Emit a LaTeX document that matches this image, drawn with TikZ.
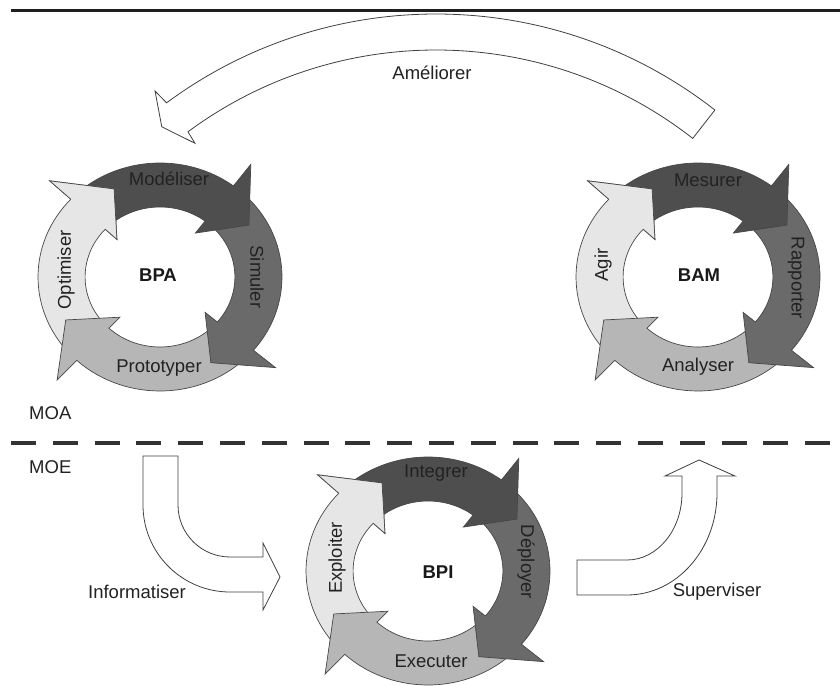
\documentclass[tikz,border=0pt]{standalone}
\usepackage{fontspec}
\setmainfont{Liberation Sans}
\definecolor{cA}{HTML}{4E4E4E}
\definecolor{cB}{HTML}{6A6A6A}
\definecolor{cC}{HTML}{B6B6B6}
\definecolor{cD}{HTML}{E6E6E6}
\definecolor{txt}{HTML}{222222}
\def\Rout{114}
\def\Rin{70}
\def\Rob{141}
\def\Rib{55}
\def\Rtip{98}
\newcommand\ringarrow[3]{%
  \pgfmathsetmacro\tipang{#2-21}%
  \filldraw[ringarr, fill=#3] (#1:\Rout) arc[start angle=#1, end angle=#2, radius=\Rout]
    -- (#2:\Rob) -- (\tipang:\Rtip) -- (#2:\Rib) -- (#2:\Rin)
    arc[start angle=#2, end angle=#1, radius=\Rin] -- cycle;}
\newcommand\ringhead[2]{%
  \pgfmathsetmacro\tipang{#1-21}%
  \fill[#2] (#1:\Rob) -- (\tipang:\Rtip) -- (#1:\Rib) -- cycle;
  \draw[ringarr] (#1:\Rout) -- (#1:\Rob) -- (\tipang:\Rtip) -- (#1:\Rib) -- (#1:\Rin);}
\newcommand\drawring[2]{%
  \begin{scope}[shift={(#1,#2)}, xscale=1.07]
    \ringarrow{-136}{-223}{cD}
    \ringarrow{-43}{-133}{cC}
    \ringarrow{50}{-40}{cB}
    \ringarrow{134}{53}{cA}
    \ringhead{-223}{cD}
  \end{scope}}
\begin{document}
\begin{tikzpicture}[x=1pt,y=1pt,
  ringarr/.style={draw=black!72, line width=0.7pt, line join=miter},
  whitearr/.style={draw=black!75, fill=white, line width=0.8pt, line join=miter},
  lbl/.style={font=\fontsize{18.5}{22}\selectfont, text=txt, inner sep=0pt},
  ctr/.style={font=\bfseries\fontsize{18.5}{22}\selectfont, text=black!90, inner sep=0pt}]
\useasboundingbox (0,0) rectangle (840,685);
\fill[white] (0,0) rectangle (840,685);

% top rule
\coordinate (ruleL) at (11,674.5);
\coordinate (ruleR) at (840,674.5);
\draw[line width=3pt, black!88] (ruleL) -- (ruleR);

% MOA / MOE separator
\coordinate (dashL) at (11,242);
\coordinate (dashR) at (840,242);
\draw[line width=4pt, black!80, dash pattern=on 25pt off 16.8pt] (dashL) -- (dashR);
\node[lbl, anchor=west] (moa) at (29,272) {MOA};
\node[lbl, anchor=west] (moe) at (29,218) {MOE};

% Ameliorer arrow
\begin{scope}[shift={(436,218)}]
\filldraw[whitearr] (52:453) arc[start angle=52,end angle=126.5,radius=453]
  -- (126.77:469.4) -- (128.87:437) -- (126.67:403.6) -- (126.5:417)
  arc[start angle=126.5,end angle=52,radius=417] -- cycle;
\end{scope}
\node[lbl] (ameliorer) at (432,612) {Améliorer};

% Informatiser arrow
\filldraw[whitearr] (143,229) -- (178,229) -- (178,180)
  arc[start angle=180, end angle=270, radius=52] -- (263,128) -- (263,142)
  -- (280,108) -- (263,75) -- (263,93) -- (230,93)
  arc[start angle=270, end angle=180, radius=87] -- cycle;
\node[lbl] (informatiser) at (137,93) {Informatiser};

% Superviser arrow
\filldraw[whitearr] (577,125) -- (627,125)
  arc[start angle=270, end angle=360, x radius=55, y radius=67] -- (682,209)
  -- (665,209) -- (699,225) -- (735,209) -- (717,209) -- (717,192)
  arc[start angle=0, end angle=-90, x radius=90, y radius=102] -- (577,90) -- cycle;
\node[lbl] (superviser) at (717,93) {Superviser};

% BPA
\drawring{160}{408}
\node[ctr] (bpa) at (158,410) {BPA};
\node[lbl] (modeliser) at (169,506) {Modéliser};
\node[lbl, rotate=-90] (simuler) at (257,408) {Simuler};
\node[lbl] (prototyper) at (159,317) {Prototyper};
\node[lbl, rotate=90] (optimiser) at (66,415) {Optimiser};

% BAM
\drawring{698}{408}
\node[ctr] (bam) at (699,410) {BAM};
\node[lbl] (mesurer) at (708,505) {Mesurer};
\node[lbl, rotate=-90] (rapporter) at (796,407) {Rapporter};
\node[lbl] (analyser) at (698,318) {Analyser};
\node[lbl, rotate=90] (agir) at (603,420) {Agir};

% BPI
\drawring{428}{114}
\node[ctr] (bpi) at (438,113) {BPI};
\node[lbl] (integrer) at (436,212) {Integrer};
\node[lbl, rotate=-90] (deployer) at (526,123) {Déployer};
\node[lbl] (executer) at (431,24) {Executer};
\node[lbl, rotate=90] (exploiter) at (337,127) {Exploiter};
\end{tikzpicture}
\end{document}
